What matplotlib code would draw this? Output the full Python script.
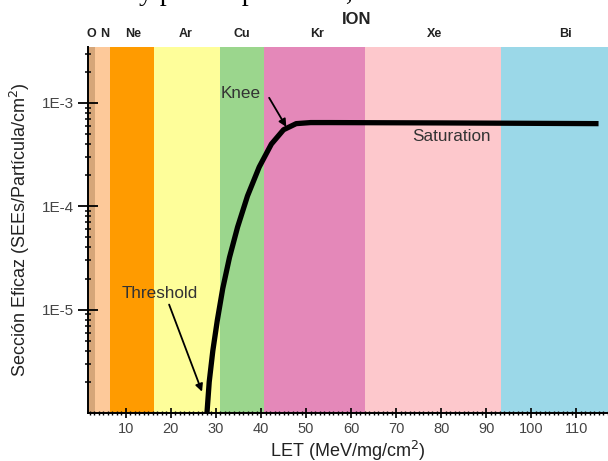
# -*- coding: utf-8 -*-
"""
Cross section vs LET curve with ion bands (Weibull-like SEE response)
"""
import numpy as np
import matplotlib
matplotlib.use('Agg')
import matplotlib.pyplot as plt
from matplotlib.ticker import LogLocator, MultipleLocator, FixedLocator, NullFormatter

plt.rcParams['font.family'] = ['Liberation Sans', 'DejaVu Sans']

# ion bands (LET ranges, MeV/mg/cm2)
ions = ['O', 'N', 'Ne', 'Ar', 'Cu', 'Kr', 'Xe', 'Bi']
band_edges = [1.5, 3.1, 6.4, 16.2, 30.9, 40.7, 63.1, 93.3, 117.0]
band_colors = ['#d6a679', '#fdc99a', '#ff9b00', '#fefe9a', '#9bd68d',
               '#e488b9', '#fdc8cc', '#9bd8e8']
label_x = [2.3, 5.2, 11.6, 23.3, 35.7, 52.5, 78.4, 107.5]

# cross section curve
let_vals = [28.0, 28.5, 29.3, 30.3, 31.5, 33.0, 34.8, 37.0, 39.6, 42.3,
            45.0, 47.8, 51.0, 55.0, 80.0, 114.9]
sigma_vals = [1.0e-6, 2.0e-6, 4.0e-6, 7.9e-6, 1.6e-5, 3.2e-5, 6.3e-5, 1.26e-4,
              2.4e-4, 4.0e-4, 5.5e-4, 6.3e-4, 6.45e-4, 6.45e-4, 6.4e-4, 6.3e-4]

yticks = [1e-5, 1e-4, 1e-3]
ytick_labels = ['1E-5', '1E-4', '1E-3']

fig = plt.figure(figsize=(6.08, 4.61), dpi=100)
ax = fig.add_axes([0.144, 0.104, 0.856, 0.794])

for i in range(len(ions)):
    ax.axvspan(band_edges[i], band_edges[i + 1], color=band_colors[i], lw=0, zorder=0)

ax.plot(let_vals, sigma_vals, color='black', lw=3.8, solid_capstyle='butt',
        solid_joinstyle='round', zorder=3)

ax.set_yscale('log')
ax.set_xlim(band_edges[0], band_edges[-1])
ax.set_ylim(1.0e-6, 3.47e-3)

ax.yaxis.set_major_locator(FixedLocator(yticks))
ax.set_yticklabels(ytick_labels)
ax.yaxis.set_minor_locator(LogLocator(base=10, subs=np.arange(2, 10), numticks=20))
ax.yaxis.set_minor_formatter(NullFormatter())
ax.xaxis.set_major_locator(MultipleLocator(10))
ax.xaxis.set_minor_locator(MultipleLocator(1))

ax.tick_params(axis='y', which='major', direction='inout', length=14, width=1.3,
               labelsize=11, labelcolor='#444444', pad=3)
ax.tick_params(axis='y', which='minor', direction='inout', length=4.5, width=1.1)
ax.tick_params(axis='x', which='major', direction='inout', length=7, width=1.2,
               labelsize=10.5, labelcolor='#444444', pad=3)
ax.tick_params(axis='x', which='minor', direction='inout', length=3.5, width=1.0)

for s in ['top', 'right']:
    ax.spines[s].set_visible(False)
for s in ['left', 'bottom']:
    ax.spines[s].set_linewidth(1.4)

ax.set_xlabel('LET (MeV/mg/cm$^2$)', fontsize=13, color='#222222', labelpad=2)
ax.set_ylabel('Sección Eficaz (SEEs/Partícula/cm$^2$)', fontsize=13,
              color='#222222', labelpad=7)

# ion labels on top
for name, xl in zip(ions, label_x):
    ax.text(xl, 1.035, name, transform=ax.get_xaxis_transform(),
            ha='center', va='center', fontsize=9, fontweight='bold', color='#222222')
ax.text(61.3, 1.076, 'ION', transform=ax.get_xaxis_transform(),
        ha='center', va='center', fontsize=12, fontweight='bold', color='#222222')

# annotations
arrow = dict(arrowstyle='-|>', color='black', lw=1.3, mutation_scale=11,
             shrinkA=0, shrinkB=0)
ax.text(9.1, 1.43e-5, 'Threshold', fontsize=12.3, color='#333333', va='center', ha='left')
ax.annotate('', xy=(26.9, 1.61e-6), xytext=(19.6, 1.12e-5), arrowprops=arrow)
ax.text(31.1, 1.22e-3, 'Knee', fontsize=12.3, color='#333333', va='center', ha='left')
ax.annotate('', xy=(45.6, 5.86e-4), xytext=(41.8, 1.12e-3), arrowprops=arrow)
ax.text(73.6, 4.7e-4, 'Saturation', fontsize=12.3, color='#333333',
        va='center', ha='left')

# clipped caption line from the source document
fig.text(0.228, 1.0, 'y para el patrón de,', fontsize=20,
         family='Liberation Serif', va='baseline', ha='left')

fig.savefig('out.png', dpi=100)
